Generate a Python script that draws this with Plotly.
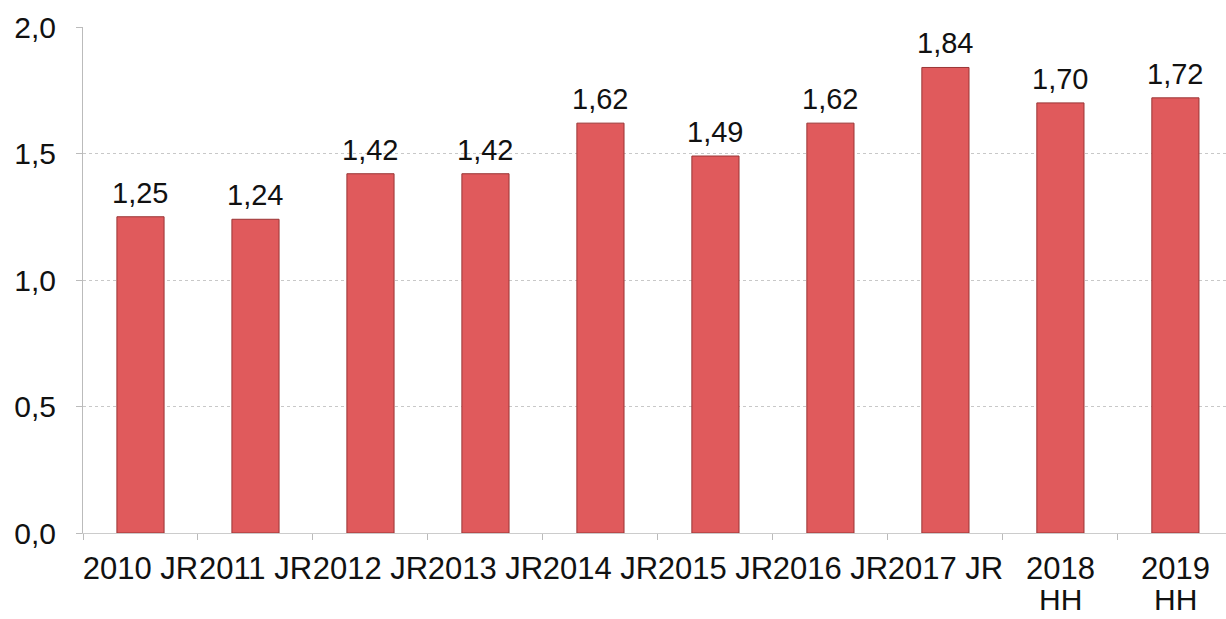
import plotly.graph_objects as go

categories = ["2010 JR", "2011 JR", "2012 JR", "2013 JR", "2014 JR",
              "2015 JR", "2016 JR", "2017 JR", "2018 HH", "2019 HH"]
tick_line1 = ["2010 JR", "2011 JR", "2012 JR", "2013 JR", "2014 JR",
              "2015 JR", "2016 JR", "2017 JR", "2018", "2019"]
tick_line2 = ["", "", "", "", "", "", "", "", "HH", "HH"]
values = [1.25, 1.24, 1.42, 1.42, 1.62, 1.49, 1.62, 1.84, 1.70, 1.72]
labels = ["1,25", "1,24", "1,42", "1,42", "1,62", "1,49", "1,62", "1,84", "1,70", "1,72"]
ytick_vals = [0, 0.5, 1.0, 1.5, 2.0]
ytick_text = ["0,0", "0,5", "1,0", "1,5", "2,0"]

FONT = "Liberation Sans, Arial, sans-serif"

fig = go.Figure(go.Bar(
    x=categories, y=values,
    marker=dict(color="#E05A5C", line=dict(color="#9A3535", width=1)),
    width=0.41, cliponaxis=False,
))

for c, v, t in zip(categories, values, labels):
    fig.add_annotation(x=c, y=v, text=t, showarrow=False, yanchor="bottom",
                       yshift=6, font=dict(family=FONT, size=29, color="#111111"))

for c, t in zip(categories, tick_line2):
    if t:
        fig.add_annotation(x=c, y=0, text=t, showarrow=False, yanchor="top",
                           yshift=-49, borderpad=0,
                           font=dict(family=FONT, size=30, color="#111111"))

fig.update_layout(
    width=1226, height=619,
    margin=dict(l=83, r=0, t=27, b=86),
    plot_bgcolor="white", paper_bgcolor="white",
    showlegend=False,
    font=dict(family=FONT, color="#111111"),
)
fig.update_xaxes(
    range=[-0.5, 9.44], tickvals=categories, ticktext=tick_line1,
    tickfont=dict(size=31, color="#111111"),
    tickangle=0, automargin=False,
    tickson="boundaries", ticks="outside", ticklen=6, tickcolor="#BBBBBB",
    showline=True, linecolor="#CCCCCC", linewidth=1, showgrid=False,
    ticklabelstandoff=8,
)
fig.update_yaxes(
    range=[0, 2.0], tickvals=ytick_vals, ticktext=ytick_text,
    tickfont=dict(size=30, color="#111111"), automargin=False,
    showgrid=True, gridcolor="#C8C8C8", gridwidth=1, griddash="dot",
    showline=True, linecolor="#BBBBBB", linewidth=1,
    ticks="outside", ticklen=6, tickcolor="#BBBBBB",
    ticklabelstandoff=14, zeroline=False,
)

fig.write_html("out.html")
